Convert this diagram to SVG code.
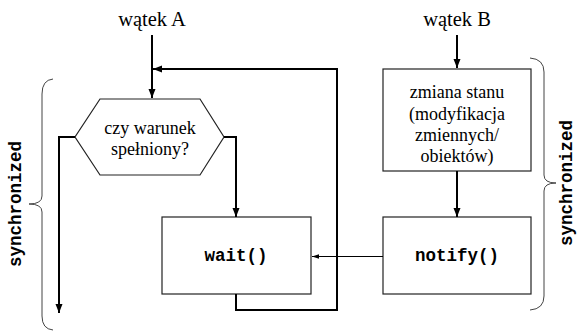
<svg xmlns="http://www.w3.org/2000/svg" width="579" height="331" viewBox="0 0 579 331">
<style>
.serif{font-family:'Liberation Serif','Times New Roman',Times,'Nimbus Roman','DejaVu Serif',serif;fill:#000;text-anchor:middle}
.mono{font-family:'Liberation Mono','Courier New',Courier,'Nimbus Mono PS',monospace;font-weight:bold;fill:#000;text-anchor:middle}
.box{fill:#fff;stroke:#222;stroke-width:1.2}
.flow{fill:none;stroke:#000;stroke-width:2}
.thin{fill:none;stroke:#000;stroke-width:1}
.brace{fill:none;stroke:#444;stroke-width:1}
</style>
<defs>
<marker id="ah" markerUnits="userSpaceOnUse" markerWidth="10" markerHeight="8" refX="9" refY="3.5" orient="auto">
<path d="M0,0 L9,3.5 L0,7 z" fill="#000"/>
</marker>
<marker id="ahs" markerUnits="userSpaceOnUse" markerWidth="8" markerHeight="6" refX="7" refY="2.2" orient="auto">
<path d="M0,0 L7,2.2 L0,4.4 z" fill="#000"/>
</marker>
</defs>

<g id="label-a"><text class="serif" x="152" y="26" font-size="20.5">wątek A</text></g>
<g id="label-b"><text class="serif" x="457" y="26" font-size="20.5">wątek B</text></g>

<g id="condition">
<polygon class="box" points="100,99 200,99 224,137 200,175 100,175 75,137"/>
<text class="serif" x="150" y="134" font-size="18">czy warunek</text>
<text class="serif" x="150" y="155" font-size="18">spełniony?</text>
</g>

<g id="wait">
<rect class="box" x="162" y="217" width="149" height="77"/>
<text class="mono" x="236" y="261" font-size="17.5">wait()</text>
</g>

<g id="state-change">
<rect class="box" x="383" y="69" width="148" height="102"/>
<text class="serif" x="457" y="98" font-size="18">zmiana stanu</text>
<text class="serif" x="457" y="120" font-size="18">(modyfikacja</text>
<text class="serif" x="457" y="141" font-size="18">zmiennych/</text>
<text class="serif" x="457" y="162" font-size="18">obiektów)</text>
</g>

<g id="notify">
<rect class="box" x="383" y="217" width="148" height="77"/>
<text class="mono" x="457" y="261" font-size="17.5">notify()</text>
</g>

<g id="sync-left">
<path class="brace" d="M53,79 Q42,80 42,94 L42,196 Q42,204 29,204 Q42,204 42,212 L42,316 Q42,329 53,330"/>
<text class="mono" font-size="17.5" transform="translate(21,204) rotate(-90)" x="0" y="0">synchronized</text>
</g>

<g id="sync-right">
<path class="brace" d="M530,58 Q544,59 544,72 L544,175 Q544,183 556,183 Q544,183 544,191 L544,296 Q544,309 530,310"/>
<text class="mono" font-size="17.5" transform="translate(572,183) rotate(-90)" x="0" y="0">synchronized</text>
</g>

<g id="connectors">
<path class="flow" d="M152,35 L152,98" marker-end="url(#ah)"/>
<path class="flow" d="M236,294 L236,310 L337,310 L337,69 L153,69" marker-end="url(#ah)"/>
<path class="flow" d="M75,137 L59,137 L59,313" marker-end="url(#ah)"/>
<path class="flow" d="M224,137 L236,137 L236,217" marker-end="url(#ah)"/>
<path class="flow" d="M457,35 L457,68" marker-end="url(#ah)"/>
<path class="flow" d="M457,171 L457,217" marker-end="url(#ah)"/>
<path class="thin" d="M383,256.5 L312,256.5" marker-end="url(#ahs)"/>
</g>
</svg>
